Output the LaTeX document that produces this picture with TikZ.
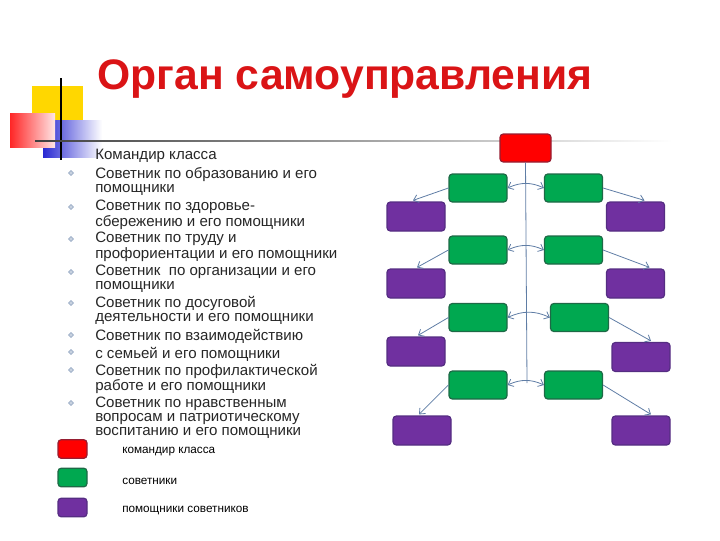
\documentclass[tikz,border=0pt]{standalone}
\usepackage{fontspec}
\setmainfont{Liberation Sans}
\usepackage{tikz}
\usetikzlibrary{calc,arrows.meta,shapes.geometric}

\definecolor{titred}{RGB}{218,20,22}
\definecolor{krasn}{RGB}{255,0,0}
\definecolor{krasnb}{RGB}{150,30,50}
\definecolor{zel}{RGB}{0,168,80}
\definecolor{zelb}{RGB}{30,105,70}
\definecolor{fiol}{RGB}{112,48,160}
\definecolor{fiolb}{RGB}{85,45,130}
\definecolor{strel}{RGB}{95,125,165}
\definecolor{zhelt}{RGB}{255,215,0}
\definecolor{sin}{RGB}{40,40,210}

\tikzset{
  komstyle/.style={draw=krasnb, fill=krasn, line width=0.9pt, rounded corners=2.5pt,
    inner sep=0pt, minimum width=38.25pt, minimum height=21pt},
  sovstyle/.style={draw=zelb, fill=zel, line width=0.9pt, rounded corners=2.5pt,
    inner sep=0pt, minimum width=43.5pt, minimum height=21pt},
  pomstyle/.style={draw=fiolb, fill=fiol, line width=0.9pt, rounded corners=2.5pt,
    inner sep=0pt, minimum width=43.5pt, minimum height=21.75pt},
  legstyle/.style={line width=0.9pt, rounded corners=2.5pt, inner sep=0pt,
    minimum width=21.75pt, minimum height=14pt},
  punkt/.style={anchor=north west, align=left, inner sep=0pt, text=black!85,
    font=\fontsize{11.3}{10.4}\selectfont},
  marker/.style={diamond, draw=strel!70, fill=strel!35, inner sep=0pt,
    minimum size=4pt, line width=0.4pt},
  strelka/.style={draw=strel, line width=0.6pt, -{Straight Barb[length=3.5pt,width=6pt]}},
  dvestr/.style={draw=strel, line width=0.6pt,
    {Straight Barb[length=3.5pt,width=6pt]}-{Straight Barb[length=3.5pt,width=6pt]}},
  legtext/.style={anchor=west, inner sep=0pt, font=\fontsize{8.8}{10}\selectfont}
}

\begin{document}
\begin{tikzpicture}[x=0.75pt, y=-0.75pt]
        \useasboundingbox (0,0) rectangle (720,540);
        % Заголовок
        \node[text=titred, font=\fontsize{32}{36}\bfseries] (titul) at (345,79) {Орган самоуправления};
        % Цветные квадраты
        \fill[zhelt] (32,86) rectangle (83,120);
        \shade[left color=sin, right color=white] (43,120) rectangle (102,157);
        \shade[left color=red!85, right color=red!10] (10,113) rectangle (55,147);
        \draw[black, line width=1.1pt] (61,78) -- (61,160);
        \shade[left color=black!75, right color=white] (35,140.2) rectangle (672,141.8);
        % Список
        \node[punkt] (t1) at (95,149) {Командир класса};
        \node[punkt] (t2) at (95,167) {Советник по образованию и его\\помощники};
        \node[punkt] (t3) at (95,200) {Советник по здоровье-\\сбережению и его помощники};
        \node[punkt] (t4) at (95,232) {Советник по труду и\\профориентации и его помощники};
        \node[punkt] (t5) at (95,265) {Советник \ по организации и его\\помощники};
        \node[punkt] (t6) at (95,296) {Советник по досуговой\\деятельности и его помощники};
        \node[punkt] (t7) at (95,329) {Советник по взаимодействию};
        \node[punkt] (t8) at (95,347) {с семьей и его помощники};
        \node[punkt] (t9) at (95,364) {Советник по профилактической\\работе и его помощники};
        \node[punkt] (t10) at (95,397) {Советник по нравственным\\вопросам и патриотическому\\воспитанию и его помощники};
        % Маркеры
        \node[marker] (m2) at (71,173) {};
        \node[marker] (m3) at (71,207) {};
        \node[marker] (m4) at (71,239) {};
        \node[marker] (m5) at (71,272) {};
        \node[marker] (m6) at (71,303) {};
        \node[marker] (m7) at (71,335) {};
        \node[marker] (m8) at (71,352) {};
        \node[marker] (m9) at (71,370) {};
        \node[marker] (m10) at (71,403) {};
        % Легенда
        \node[legstyle, draw=krasnb, fill=krasn] (lg1) at (72.5,449) {};
        \node[legstyle, draw=zelb, fill=zel] (lg2) at (72.5,477.5) {};
        \node[legstyle, draw=fiolb, fill=fiol] (lg3) at (72.5,507.5) {};
        \node[legtext] (lt1) at (122,452) {командир класса};
        \node[legtext] (lt2) at (122,481) {советники};
        \node[legtext] (lt3) at (122,510) {помощники советников};
        % Схема
        \node[komstyle] (kom) at (525.5,148) {};
        \coordinate (niz) at (527,383);
        \draw[strel, line width=0.6pt] (kom.south) -- (niz);
        \node[sovstyle] (sl1) at (478,188) {};
        \node[sovstyle] (sr1) at (573.5,188) {};
        \node[sovstyle] (sl2) at (478,250) {};
        \node[sovstyle] (sr2) at (573.5,250) {};
        \node[sovstyle] (sl3) at (478,317.5) {};
        \node[sovstyle] (sr3) at (579.5,317.5) {};
        \node[sovstyle] (sl4) at (478,385) {};
        \node[sovstyle] (sr4) at (573.5,385) {};
        \node[pomstyle] (pl1) at (416,216.5) {};
        \node[pomstyle] (pr1) at (635.5,216.5) {};
        \node[pomstyle] (pl2) at (416,283.5) {};
        \node[pomstyle] (pr2) at (635.5,283.5) {};
        \node[pomstyle] (pl3) at (416,351.5) {};
        \node[pomstyle] (pr3) at (641,357) {};
        \node[pomstyle] (pl4) at (422,430.5) {};
        \node[pomstyle] (pr4) at (641,430.5) {};
        % Стрелки между советниками
        \draw[dvestr] (sl1.east) to[bend left=25] (sr1.west);
        \draw[dvestr] (sl2.east) to[bend left=25] (sr2.west);
        \draw[dvestr] (sl3.east) to[bend left=25] (sr3.west);
        \draw[dvestr] (sl4.east) to[bend left=25] (sr4.west);
        % Стрелки к помощникам
        \draw[strelka] (sl1.west) -- ($(pl1.north)+(-3,-1)$);
        \draw[strelka] (sl2.west) -- ($(pl2.north)+(1,-1)$);
        \draw[strelka] (sl3.west) -- ($(pl3.north)+(2,-1)$);
        \draw[strelka] (sl4.west) -- ($(pl4.north)+(-3,-1)$);
        \draw[strelka] (sr1.east) -- ($(pr1.north)+(9,-1)$);
        \draw[strelka] (sr2.east) -- ($(pr2.north)+(14,-1)$);
        \draw[strelka] (sr3.east) -- ($(pr3.north)+(10,-1)$);
        \draw[strelka] (sr4.east) -- ($(pr4.north)+(10,-1)$);
\end{tikzpicture}
\end{document}
